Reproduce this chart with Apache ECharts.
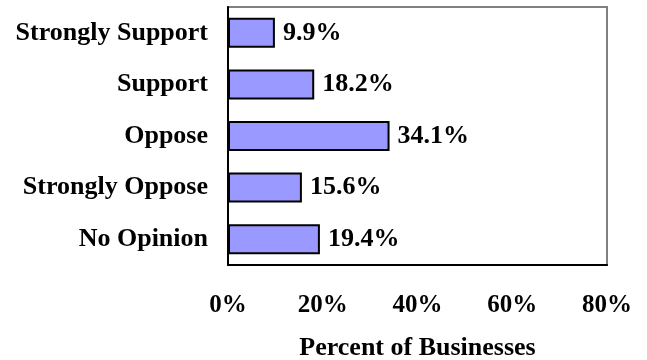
<!DOCTYPE html>
<html>
<head>
<meta charset="utf-8">
<script src="https://cdn.jsdelivr.net/npm/echarts@6/dist/echarts.min.js"></script>
<style>
html,body{margin:0;padding:0;background:#fff;}
#c{width:647px;height:360px;}
</style>
</head>
<body>
<div id="c"></div>
<script>
const categories = ["Strongly Support", "Support", "Oppose", "Strongly Oppose", "No Opinion"];
const values = [9.9, 18.2, 34.1, 15.6, 19.4];
const axisMin = 0, axisMax = 80, axisStep = 20;
const axisTitle = "Percent of Businesses";

const FONT = "'Liberation Serif', 'Times New Roman', serif";
const chart = echarts.init(document.getElementById('c'), null, {renderer: 'canvas'});
chart.setOption({
  backgroundColor: '#fff',
  animation: false,
  grid: {left: 228, right: 40, top: 7, bottom: 95, show: true, borderColor: '#808080', borderWidth: 2, backgroundColor: 'transparent', containLabel: false, outerBoundsMode: 'none'},
  xAxis: {
    type: 'value', min: axisMin, max: axisMax, interval: axisStep,
    axisLine: {show: true, onZero: false, lineStyle: {color: '#000', width: 2}},
    axisTick: {show: false},
    splitLine: {show: false},
    axisLabel: {formatter: '{value}%', color: '#000', fontFamily: FONT, fontWeight: 'bold', fontSize: 25, margin: 28},
    name: axisTitle, nameLocation: 'middle', nameGap: 70,
    nameTextStyle: {color: '#000', fontFamily: FONT, fontWeight: 'bold', fontSize: 26}
  },
  yAxis: {
    type: 'category', data: categories, inverse: true,
    axisLine: {show: true, lineStyle: {color: '#000', width: 2}},
    axisTick: {show: false},
    axisLabel: {color: '#000', fontFamily: FONT, fontWeight: 'bold', fontSize: 26, margin: 20}
  },
  series: [{
    type: 'bar', data: values, barWidth: 30,
    itemStyle: {color: '#9999ff', borderColor: '#000', borderWidth: 2},
    label: {show: true, position: 'right', distance: 8, formatter: '{c}%', color: '#000', fontFamily: FONT, fontWeight: 'bold', fontSize: 26}
  }]
});
</script>
</body>
</html>
